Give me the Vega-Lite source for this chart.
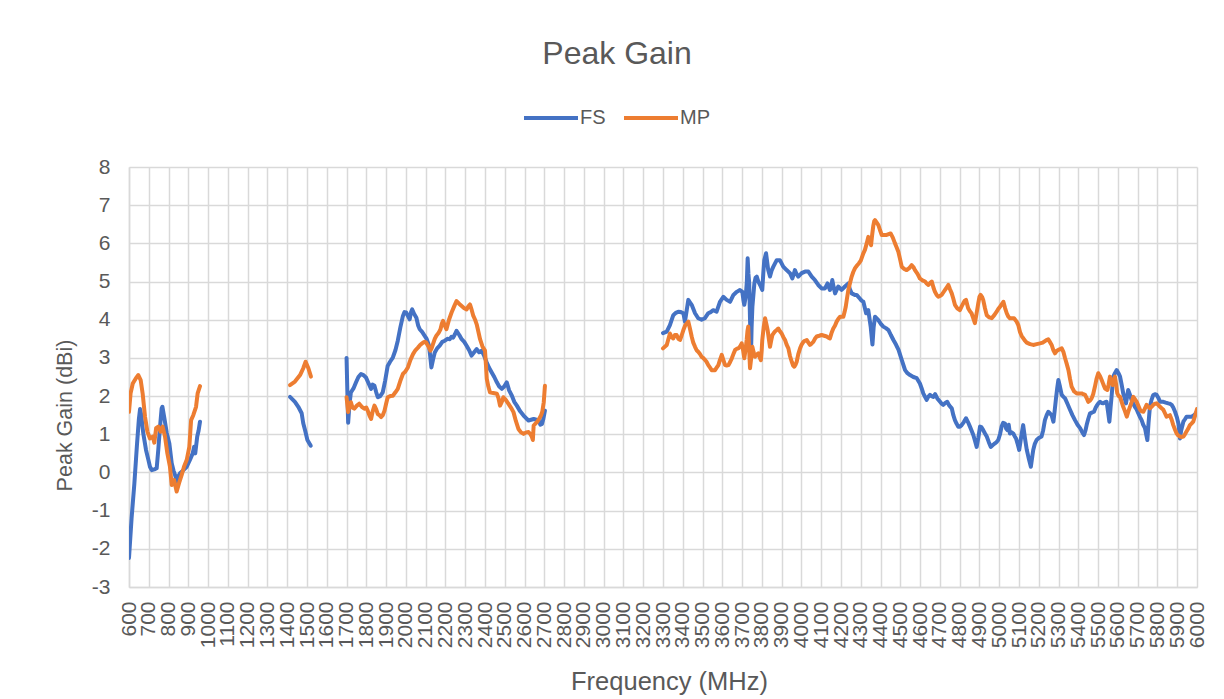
{
"$schema":"https://vega.github.io/schema/vega-lite/v6.json",
"width":1068,"height":420,
"autosize":{"type":"none"},
"padding":{"left":129,"top":167,"right":27,"bottom":112},
"background":"white",
"config":{"font":"Liberation Sans","view":{"stroke":null}},
"title":{"text":"Peak Gain","fontSize":32,"fontWeight":"normal","color":"#595959","anchor":"middle","dx":-46,"offset":18},
"data":{"values":[
{"s":"FS","seg":1,"f":600,"g":-2.24},{"s":"FS","seg":1,"f":613,"g":-1.2},{"s":"FS","seg":1,"f":627,"g":-0.3},{"s":"FS","seg":1,"f":640,"g":0.7},{"s":"FS","seg":1,"f":650,"g":1.4},{"s":"FS","seg":1,"f":656,"g":1.66},{"s":"FS","seg":1,"f":662,"g":1.5},{"s":"FS","seg":1,"f":672,"g":1.03},{"s":"FS","seg":1,"f":686,"g":0.59},{"s":"FS","seg":1,"f":698,"g":0.33},{"s":"FS","seg":1,"f":706,"g":0.15},{"s":"FS","seg":1,"f":715,"g":0.06},{"s":"FS","seg":1,"f":728,"g":0.08},{"s":"FS","seg":1,"f":740,"g":0.11},{"s":"FS","seg":1,"f":748,"g":0.59},{"s":"FS","seg":1,"f":757,"g":1.2},{"s":"FS","seg":1,"f":765,"g":1.68},{"s":"FS","seg":1,"f":769,"g":1.72},{"s":"FS","seg":1,"f":779,"g":1.42},{"s":"FS","seg":1,"f":791,"g":1.03},{"s":"FS","seg":1,"f":804,"g":0.76},{"s":"FS","seg":1,"f":816,"g":0.24},{"s":"FS","seg":1,"f":825,"g":0.05},{"s":"FS","seg":1,"f":833,"g":-0.07},{"s":"FS","seg":1,"f":841,"g":-0.24},{"s":"FS","seg":1,"f":850,"g":-0.1},{"s":"FS","seg":1,"f":858,"g":-0.02},{"s":"FS","seg":1,"f":875,"g":0.06},{"s":"FS","seg":1,"f":892,"g":0.15},{"s":"FS","seg":1,"f":908,"g":0.33},{"s":"FS","seg":1,"f":922,"g":0.5},{"s":"FS","seg":1,"f":929,"g":0.67},{"s":"FS","seg":1,"f":935,"g":0.5},{"s":"FS","seg":1,"f":945,"g":0.94},{"s":"FS","seg":1,"f":952,"g":1.1},{"s":"FS","seg":1,"f":959,"g":1.33},
{"s":"MP","seg":1,"f":600,"g":1.59},{"s":"MP","seg":1,"f":608,"g":2.07},{"s":"MP","seg":1,"f":619,"g":2.33},{"s":"MP","seg":1,"f":635,"g":2.47},{"s":"MP","seg":1,"f":647,"g":2.55},{"s":"MP","seg":1,"f":659,"g":2.42},{"s":"MP","seg":1,"f":669,"g":2.07},{"s":"MP","seg":1,"f":681,"g":1.46},{"s":"MP","seg":1,"f":693,"g":1.07},{"s":"MP","seg":1,"f":706,"g":0.89},{"s":"MP","seg":1,"f":720,"g":0.94},{"s":"MP","seg":1,"f":728,"g":0.78},{"s":"MP","seg":1,"f":737,"g":1.16},{"s":"MP","seg":1,"f":748,"g":1.2},{"s":"MP","seg":1,"f":760,"g":1.07},{"s":"MP","seg":1,"f":770,"g":1.2},{"s":"MP","seg":1,"f":782,"g":0.94},{"s":"MP","seg":1,"f":794,"g":0.5},{"s":"MP","seg":1,"f":807,"g":0.15},{"s":"MP","seg":1,"f":816,"g":-0.33},{"s":"MP","seg":1,"f":828,"g":-0.2},{"s":"MP","seg":1,"f":841,"g":-0.5},{"s":"MP","seg":1,"f":853,"g":-0.28},{"s":"MP","seg":1,"f":866,"g":-0.07},{"s":"MP","seg":1,"f":878,"g":0.15},{"s":"MP","seg":1,"f":892,"g":0.33},{"s":"MP","seg":1,"f":905,"g":0.67},{"s":"MP","seg":1,"f":914,"g":1.37},{"s":"MP","seg":1,"f":925,"g":1.5},{"s":"MP","seg":1,"f":939,"g":1.72},{"s":"MP","seg":1,"f":947,"g":2.07},{"s":"MP","seg":1,"f":959,"g":2.26},
{"s":"FS","seg":2,"f":1414,"g":1.98},{"s":"FS","seg":2,"f":1439,"g":1.85},{"s":"FS","seg":2,"f":1456,"g":1.72},{"s":"FS","seg":2,"f":1473,"g":1.55},{"s":"FS","seg":2,"f":1481,"g":1.29},{"s":"FS","seg":2,"f":1490,"g":1.11},{"s":"FS","seg":2,"f":1502,"g":0.85},{"s":"FS","seg":2,"f":1519,"g":0.7},
{"s":"MP","seg":2,"f":1414,"g":2.29},{"s":"MP","seg":2,"f":1439,"g":2.38},{"s":"MP","seg":2,"f":1465,"g":2.55},{"s":"MP","seg":2,"f":1481,"g":2.73},{"s":"MP","seg":2,"f":1493,"g":2.9},{"s":"MP","seg":2,"f":1507,"g":2.73},{"s":"MP","seg":2,"f":1520,"g":2.51},
{"s":"FS","seg":3,"f":1700,"g":3.0},{"s":"FS","seg":3,"f":1705,"g":1.9},{"s":"FS","seg":3,"f":1708,"g":1.3},{"s":"FS","seg":3,"f":1715,"g":1.8},{"s":"FS","seg":3,"f":1722,"g":2.1},{"s":"FS","seg":3,"f":1735,"g":2.2},{"s":"FS","seg":3,"f":1748,"g":2.36},{"s":"FS","seg":3,"f":1760,"g":2.5},{"s":"FS","seg":3,"f":1773,"g":2.58},{"s":"FS","seg":3,"f":1785,"g":2.55},{"s":"FS","seg":3,"f":1798,"g":2.49},{"s":"FS","seg":3,"f":1810,"g":2.35},{"s":"FS","seg":3,"f":1824,"g":2.19},{"s":"FS","seg":3,"f":1832,"g":2.3},{"s":"FS","seg":3,"f":1841,"g":2.27},{"s":"FS","seg":3,"f":1850,"g":2.1},{"s":"FS","seg":3,"f":1858,"g":1.97},{"s":"FS","seg":3,"f":1870,"g":2.0},{"s":"FS","seg":3,"f":1883,"g":2.1},{"s":"FS","seg":3,"f":1895,"g":2.4},{"s":"FS","seg":3,"f":1908,"g":2.79},{"s":"FS","seg":3,"f":1920,"g":2.9},{"s":"FS","seg":3,"f":1934,"g":3.01},{"s":"FS","seg":3,"f":1947,"g":3.2},{"s":"FS","seg":3,"f":1959,"g":3.45},{"s":"FS","seg":3,"f":1972,"g":3.8},{"s":"FS","seg":3,"f":1985,"g":4.1},{"s":"FS","seg":3,"f":1993,"g":4.2},{"s":"FS","seg":3,"f":2002,"g":4.19},{"s":"FS","seg":3,"f":2010,"g":4.1},{"s":"FS","seg":3,"f":2019,"g":4.01},{"s":"FS","seg":3,"f":2026,"g":4.2},{"s":"FS","seg":3,"f":2032,"g":4.27},{"s":"FS","seg":3,"f":2042,"g":4.15},{"s":"FS","seg":3,"f":2053,"g":4.05},{"s":"FS","seg":3,"f":2062,"g":3.85},{"s":"FS","seg":3,"f":2070,"g":3.75},{"s":"FS","seg":3,"f":2082,"g":3.68},{"s":"FS","seg":3,"f":2095,"g":3.58},{"s":"FS","seg":3,"f":2105,"g":3.5},{"s":"FS","seg":3,"f":2117,"g":3.32},{"s":"FS","seg":3,"f":2124,"g":3.0},{"s":"FS","seg":3,"f":2129,"g":2.75},{"s":"FS","seg":3,"f":2137,"g":2.95},{"s":"FS","seg":3,"f":2146,"g":3.14},{"s":"FS","seg":3,"f":2158,"g":3.25},{"s":"FS","seg":3,"f":2171,"g":3.32},{"s":"FS","seg":3,"f":2184,"g":3.42},{"s":"FS","seg":3,"f":2197,"g":3.45},{"s":"FS","seg":3,"f":2210,"g":3.5},{"s":"FS","seg":3,"f":2222,"g":3.49},{"s":"FS","seg":3,"f":2230,"g":3.55},{"s":"FS","seg":3,"f":2239,"g":3.53},{"s":"FS","seg":3,"f":2248,"g":3.62},{"s":"FS","seg":3,"f":2256,"g":3.71},{"s":"FS","seg":3,"f":2270,"g":3.6},{"s":"FS","seg":3,"f":2282,"g":3.49},{"s":"FS","seg":3,"f":2295,"g":3.42},{"s":"FS","seg":3,"f":2307,"g":3.32},{"s":"FS","seg":3,"f":2320,"g":3.2},{"s":"FS","seg":3,"f":2332,"g":3.06},{"s":"FS","seg":3,"f":2345,"g":3.15},{"s":"FS","seg":3,"f":2358,"g":3.23},{"s":"FS","seg":3,"f":2370,"g":3.15},{"s":"FS","seg":3,"f":2383,"g":3.19},{"s":"FS","seg":3,"f":2396,"g":3.05},{"s":"FS","seg":3,"f":2409,"g":2.88},{"s":"FS","seg":3,"f":2420,"g":2.75},{"s":"FS","seg":3,"f":2434,"g":2.62},{"s":"FS","seg":3,"f":2447,"g":2.5},{"s":"FS","seg":3,"f":2460,"g":2.36},{"s":"FS","seg":3,"f":2472,"g":2.25},{"s":"FS","seg":3,"f":2485,"g":2.19},{"s":"FS","seg":3,"f":2497,"g":2.25},{"s":"FS","seg":3,"f":2510,"g":2.36},{"s":"FS","seg":3,"f":2522,"g":2.15},{"s":"FS","seg":3,"f":2536,"g":2.01},{"s":"FS","seg":3,"f":2548,"g":1.85},{"s":"FS","seg":3,"f":2561,"g":1.75},{"s":"FS","seg":3,"f":2578,"g":1.6},{"s":"FS","seg":3,"f":2595,"g":1.49},{"s":"FS","seg":3,"f":2608,"g":1.42},{"s":"FS","seg":3,"f":2620,"g":1.36},{"s":"FS","seg":3,"f":2633,"g":1.38},{"s":"FS","seg":3,"f":2646,"g":1.4},{"s":"FS","seg":3,"f":2660,"g":1.38},{"s":"FS","seg":3,"f":2671,"g":1.36},{"s":"FS","seg":3,"f":2680,"g":1.25},{"s":"FS","seg":3,"f":2688,"g":1.27},{"s":"FS","seg":3,"f":2695,"g":1.4},{"s":"FS","seg":3,"f":2703,"g":1.62},
{"s":"MP","seg":3,"f":1700,"g":1.97},{"s":"MP","seg":3,"f":1708,"g":1.58},{"s":"MP","seg":3,"f":1715,"g":1.75},{"s":"MP","seg":3,"f":1722,"g":1.84},{"s":"MP","seg":3,"f":1730,"g":1.7},{"s":"MP","seg":3,"f":1739,"g":1.67},{"s":"MP","seg":3,"f":1752,"g":1.75},{"s":"MP","seg":3,"f":1764,"g":1.8},{"s":"MP","seg":3,"f":1777,"g":1.72},{"s":"MP","seg":3,"f":1790,"g":1.67},{"s":"MP","seg":3,"f":1800,"g":1.7},{"s":"MP","seg":3,"f":1807,"g":1.62},{"s":"MP","seg":3,"f":1815,"g":1.5},{"s":"MP","seg":3,"f":1824,"g":1.4},{"s":"MP","seg":3,"f":1832,"g":1.6},{"s":"MP","seg":3,"f":1841,"g":1.75},{"s":"MP","seg":3,"f":1850,"g":1.65},{"s":"MP","seg":3,"f":1858,"g":1.53},{"s":"MP","seg":3,"f":1866,"g":1.5},{"s":"MP","seg":3,"f":1875,"g":1.45},{"s":"MP","seg":3,"f":1883,"g":1.5},{"s":"MP","seg":3,"f":1892,"g":1.62},{"s":"MP","seg":3,"f":1900,"g":1.8},{"s":"MP","seg":3,"f":1908,"g":1.97},{"s":"MP","seg":3,"f":1921,"g":2.0},{"s":"MP","seg":3,"f":1934,"g":2.01},{"s":"MP","seg":3,"f":1947,"g":2.1},{"s":"MP","seg":3,"f":1959,"g":2.19},{"s":"MP","seg":3,"f":1972,"g":2.4},{"s":"MP","seg":3,"f":1985,"g":2.58},{"s":"MP","seg":3,"f":1998,"g":2.65},{"s":"MP","seg":3,"f":2010,"g":2.75},{"s":"MP","seg":3,"f":2023,"g":2.95},{"s":"MP","seg":3,"f":2036,"g":3.1},{"s":"MP","seg":3,"f":2048,"g":3.2},{"s":"MP","seg":3,"f":2061,"g":3.27},{"s":"MP","seg":3,"f":2074,"g":3.35},{"s":"MP","seg":3,"f":2087,"g":3.4},{"s":"MP","seg":3,"f":2095,"g":3.42},{"s":"MP","seg":3,"f":2103,"g":3.4},{"s":"MP","seg":3,"f":2114,"g":3.3},{"s":"MP","seg":3,"f":2124,"g":3.19},{"s":"MP","seg":3,"f":2130,"g":3.25},{"s":"MP","seg":3,"f":2137,"g":3.36},{"s":"MP","seg":3,"f":2146,"g":3.5},{"s":"MP","seg":3,"f":2154,"g":3.58},{"s":"MP","seg":3,"f":2165,"g":3.65},{"s":"MP","seg":3,"f":2175,"g":3.75},{"s":"MP","seg":3,"f":2182,"g":3.9},{"s":"MP","seg":3,"f":2188,"g":3.97},{"s":"MP","seg":3,"f":2196,"g":3.85},{"s":"MP","seg":3,"f":2205,"g":3.75},{"s":"MP","seg":3,"f":2218,"g":4.0},{"s":"MP","seg":3,"f":2231,"g":4.19},{"s":"MP","seg":3,"f":2244,"g":4.35},{"s":"MP","seg":3,"f":2256,"g":4.49},{"s":"MP","seg":3,"f":2269,"g":4.42},{"s":"MP","seg":3,"f":2282,"g":4.36},{"s":"MP","seg":3,"f":2295,"g":4.3},{"s":"MP","seg":3,"f":2307,"g":4.27},{"s":"MP","seg":3,"f":2316,"g":4.35},{"s":"MP","seg":3,"f":2324,"g":4.4},{"s":"MP","seg":3,"f":2333,"g":4.25},{"s":"MP","seg":3,"f":2341,"g":4.1},{"s":"MP","seg":3,"f":2350,"g":4.0},{"s":"MP","seg":3,"f":2358,"g":3.88},{"s":"MP","seg":3,"f":2366,"g":3.7},{"s":"MP","seg":3,"f":2375,"g":3.49},{"s":"MP","seg":3,"f":2387,"g":3.3},{"s":"MP","seg":3,"f":2400,"g":3.19},{"s":"MP","seg":3,"f":2405,"g":2.8},{"s":"MP","seg":3,"f":2409,"g":2.45},{"s":"MP","seg":3,"f":2417,"g":2.25},{"s":"MP","seg":3,"f":2425,"g":2.1},{"s":"MP","seg":3,"f":2442,"g":2.08},{"s":"MP","seg":3,"f":2460,"g":2.06},{"s":"MP","seg":3,"f":2468,"g":1.95},{"s":"MP","seg":3,"f":2476,"g":1.75},{"s":"MP","seg":3,"f":2485,"g":1.85},{"s":"MP","seg":3,"f":2493,"g":1.97},{"s":"MP","seg":3,"f":2505,"g":1.9},{"s":"MP","seg":3,"f":2518,"g":1.8},{"s":"MP","seg":3,"f":2531,"g":1.7},{"s":"MP","seg":3,"f":2544,"g":1.58},{"s":"MP","seg":3,"f":2556,"g":1.35},{"s":"MP","seg":3,"f":2569,"g":1.14},{"s":"MP","seg":3,"f":2582,"g":1.05},{"s":"MP","seg":3,"f":2595,"g":1.01},{"s":"MP","seg":3,"f":2608,"g":1.05},{"s":"MP","seg":3,"f":2620,"g":1.06},{"s":"MP","seg":3,"f":2630,"g":1.0},{"s":"MP","seg":3,"f":2637,"g":0.93},{"s":"MP","seg":3,"f":2642,"g":0.85},{"s":"MP","seg":3,"f":2646,"g":1.23},{"s":"MP","seg":3,"f":2655,"g":1.28},{"s":"MP","seg":3,"f":2663,"g":1.32},{"s":"MP","seg":3,"f":2673,"g":1.4},{"s":"MP","seg":3,"f":2683,"g":1.49},{"s":"MP","seg":3,"f":2690,"g":1.6},{"s":"MP","seg":3,"f":2697,"g":1.84},{"s":"MP","seg":3,"f":2700,"g":2.05},{"s":"MP","seg":3,"f":2703,"g":2.27},
{"s":"FS","seg":4,"f":3300,"g":3.65},{"s":"FS","seg":4,"f":3319,"g":3.69},{"s":"FS","seg":4,"f":3335,"g":3.86},{"s":"FS","seg":4,"f":3352,"g":4.12},{"s":"FS","seg":4,"f":3365,"g":4.18},{"s":"FS","seg":4,"f":3377,"g":4.21},{"s":"FS","seg":4,"f":3390,"g":4.2},{"s":"FS","seg":4,"f":3403,"g":4.17},{"s":"FS","seg":4,"f":3411,"g":3.95},{"s":"FS","seg":4,"f":3420,"g":4.25},{"s":"FS","seg":4,"f":3428,"g":4.52},{"s":"FS","seg":4,"f":3437,"g":4.45},{"s":"FS","seg":4,"f":3445,"g":4.39},{"s":"FS","seg":4,"f":3462,"g":4.17},{"s":"FS","seg":4,"f":3478,"g":4.04},{"s":"FS","seg":4,"f":3495,"g":4.0},{"s":"FS","seg":4,"f":3512,"g":4.04},{"s":"FS","seg":4,"f":3529,"g":4.17},{"s":"FS","seg":4,"f":3541,"g":4.2},{"s":"FS","seg":4,"f":3554,"g":4.25},{"s":"FS","seg":4,"f":3571,"g":4.21},{"s":"FS","seg":4,"f":3588,"g":4.47},{"s":"FS","seg":4,"f":3605,"g":4.6},{"s":"FS","seg":4,"f":3622,"g":4.52},{"s":"FS","seg":4,"f":3639,"g":4.47},{"s":"FS","seg":4,"f":3656,"g":4.65},{"s":"FS","seg":4,"f":3673,"g":4.73},{"s":"FS","seg":4,"f":3689,"g":4.78},{"s":"FS","seg":4,"f":3701,"g":4.73},{"s":"FS","seg":4,"f":3707,"g":4.5},{"s":"FS","seg":4,"f":3711,"g":4.39},{"s":"FS","seg":4,"f":3718,"g":4.6},{"s":"FS","seg":4,"f":3724,"g":5.0},{"s":"FS","seg":4,"f":3728,"g":5.61},{"s":"FS","seg":4,"f":3732,"g":5.2},{"s":"FS","seg":4,"f":3736,"g":4.95},{"s":"FS","seg":4,"f":3740,"g":4.0},{"s":"FS","seg":4,"f":3745,"g":3.12},{"s":"FS","seg":4,"f":3748,"g":3.8},{"s":"FS","seg":4,"f":3752,"g":4.34},{"s":"FS","seg":4,"f":3762,"g":4.95},{"s":"FS","seg":4,"f":3768,"g":5.1},{"s":"FS","seg":4,"f":3774,"g":5.13},{"s":"FS","seg":4,"f":3782,"g":5.0},{"s":"FS","seg":4,"f":3791,"g":4.91},{"s":"FS","seg":4,"f":3802,"g":4.78},{"s":"FS","seg":4,"f":3807,"g":5.2},{"s":"FS","seg":4,"f":3812,"g":5.56},{"s":"FS","seg":4,"f":3821,"g":5.74},{"s":"FS","seg":4,"f":3832,"g":5.3},{"s":"FS","seg":4,"f":3841,"g":5.13},{"s":"FS","seg":4,"f":3850,"g":5.3},{"s":"FS","seg":4,"f":3858,"g":5.39},{"s":"FS","seg":4,"f":3875,"g":5.56},{"s":"FS","seg":4,"f":3891,"g":5.56},{"s":"FS","seg":4,"f":3908,"g":5.39},{"s":"FS","seg":4,"f":3925,"g":5.3},{"s":"FS","seg":4,"f":3942,"g":5.22},{"s":"FS","seg":4,"f":3954,"g":5.08},{"s":"FS","seg":4,"f":3967,"g":5.3},{"s":"FS","seg":4,"f":3975,"g":5.2},{"s":"FS","seg":4,"f":3984,"g":5.13},{"s":"FS","seg":4,"f":4001,"g":5.22},{"s":"FS","seg":4,"f":4018,"g":5.26},{"s":"FS","seg":4,"f":4035,"g":5.26},{"s":"FS","seg":4,"f":4052,"g":5.13},{"s":"FS","seg":4,"f":4068,"g":5.04},{"s":"FS","seg":4,"f":4085,"g":4.91},{"s":"FS","seg":4,"f":4102,"g":4.82},{"s":"FS","seg":4,"f":4119,"g":4.82},{"s":"FS","seg":4,"f":4132,"g":4.95},{"s":"FS","seg":4,"f":4144,"g":4.78},{"s":"FS","seg":4,"f":4150,"g":4.85},{"s":"FS","seg":4,"f":4156,"g":5.04},{"s":"FS","seg":4,"f":4163,"g":4.85},{"s":"FS","seg":4,"f":4170,"g":4.69},{"s":"FS","seg":4,"f":4186,"g":4.87},{"s":"FS","seg":4,"f":4203,"g":4.78},{"s":"FS","seg":4,"f":4220,"g":4.87},{"s":"FS","seg":4,"f":4237,"g":4.95},{"s":"FS","seg":4,"f":4245,"g":4.8},{"s":"FS","seg":4,"f":4254,"g":4.69},{"s":"FS","seg":4,"f":4270,"g":4.65},{"s":"FS","seg":4,"f":4279,"g":4.65},{"s":"FS","seg":4,"f":4296,"g":4.55},{"s":"FS","seg":4,"f":4304,"g":4.5},{"s":"FS","seg":4,"f":4313,"g":4.47},{"s":"FS","seg":4,"f":4327,"g":4.17},{"s":"FS","seg":4,"f":4338,"g":4.25},{"s":"FS","seg":4,"f":4350,"g":3.82},{"s":"FS","seg":4,"f":4359,"g":3.35},{"s":"FS","seg":4,"f":4365,"g":3.8},{"s":"FS","seg":4,"f":4372,"g":4.08},{"s":"FS","seg":4,"f":4389,"g":3.99},{"s":"FS","seg":4,"f":4400,"g":3.9},{"s":"FS","seg":4,"f":4414,"g":3.82},{"s":"FS","seg":4,"f":4427,"g":3.78},{"s":"FS","seg":4,"f":4440,"g":3.73},{"s":"FS","seg":4,"f":4452,"g":3.6},{"s":"FS","seg":4,"f":4465,"g":3.47},{"s":"FS","seg":4,"f":4478,"g":3.35},{"s":"FS","seg":4,"f":4491,"g":3.21},{"s":"FS","seg":4,"f":4507,"g":2.95},{"s":"FS","seg":4,"f":4524,"g":2.68},{"s":"FS","seg":4,"f":4536,"g":2.6},{"s":"FS","seg":4,"f":4549,"g":2.55},{"s":"FS","seg":4,"f":4566,"g":2.5},{"s":"FS","seg":4,"f":4583,"g":2.47},{"s":"FS","seg":4,"f":4599,"g":2.33},{"s":"FS","seg":4,"f":4608,"g":2.2},{"s":"FS","seg":4,"f":4616,"g":2.07},{"s":"FS","seg":4,"f":4625,"g":1.98},{"s":"FS","seg":4,"f":4633,"g":1.9},{"s":"FS","seg":4,"f":4641,"g":1.98},{"s":"FS","seg":4,"f":4650,"g":2.03},{"s":"FS","seg":4,"f":4658,"g":2.0},{"s":"FS","seg":4,"f":4667,"g":1.98},{"s":"FS","seg":4,"f":4676,"g":2.05},{"s":"FS","seg":4,"f":4687,"g":1.94},{"s":"FS","seg":4,"f":4701,"g":1.85},{"s":"FS","seg":4,"f":4709,"g":1.8},{"s":"FS","seg":4,"f":4717,"g":1.77},{"s":"FS","seg":4,"f":4727,"g":1.82},{"s":"FS","seg":4,"f":4737,"g":1.85},{"s":"FS","seg":4,"f":4748,"g":1.75},{"s":"FS","seg":4,"f":4760,"g":1.68},{"s":"FS","seg":4,"f":4768,"g":1.5},{"s":"FS","seg":4,"f":4776,"g":1.37},{"s":"FS","seg":4,"f":4784,"g":1.28},{"s":"FS","seg":4,"f":4793,"g":1.2},{"s":"FS","seg":4,"f":4801,"g":1.2},{"s":"FS","seg":4,"f":4810,"g":1.24},{"s":"FS","seg":4,"f":4821,"g":1.32},{"s":"FS","seg":4,"f":4832,"g":1.42},{"s":"FS","seg":4,"f":4842,"g":1.32},{"s":"FS","seg":4,"f":4852,"g":1.2},{"s":"FS","seg":4,"f":4860,"g":1.1},{"s":"FS","seg":4,"f":4869,"g":0.98},{"s":"FS","seg":4,"f":4878,"g":0.82},{"s":"FS","seg":4,"f":4886,"g":0.67},{"s":"FS","seg":4,"f":4894,"g":0.9},{"s":"FS","seg":4,"f":4903,"g":1.2},{"s":"FS","seg":4,"f":4911,"g":1.18},{"s":"FS","seg":4,"f":4919,"g":1.11},{"s":"FS","seg":4,"f":4928,"g":1.02},{"s":"FS","seg":4,"f":4937,"g":0.94},{"s":"FS","seg":4,"f":4947,"g":0.8},{"s":"FS","seg":4,"f":4957,"g":0.67},{"s":"FS","seg":4,"f":4968,"g":0.72},{"s":"FS","seg":4,"f":4978,"g":0.76},{"s":"FS","seg":4,"f":4987,"g":0.8},{"s":"FS","seg":4,"f":4995,"g":0.85},{"s":"FS","seg":4,"f":5004,"g":1.0},{"s":"FS","seg":4,"f":5012,"g":1.2},{"s":"FS","seg":4,"f":5020,"g":1.3},{"s":"FS","seg":4,"f":5029,"g":1.28},{"s":"FS","seg":4,"f":5035,"g":1.15},{"s":"FS","seg":4,"f":5041,"g":1.11},{"s":"FS","seg":4,"f":5048,"g":1.25},{"s":"FS","seg":4,"f":5054,"g":1.02},{"s":"FS","seg":4,"f":5063,"g":1.05},{"s":"FS","seg":4,"f":5071,"g":1.02},{"s":"FS","seg":4,"f":5078,"g":0.95},{"s":"FS","seg":4,"f":5085,"g":0.89},{"s":"FS","seg":4,"f":5093,"g":0.75},{"s":"FS","seg":4,"f":5101,"g":0.59},{"s":"FS","seg":4,"f":5110,"g":0.9},{"s":"FS","seg":4,"f":5121,"g":1.24},{"s":"FS","seg":4,"f":5130,"g":0.9},{"s":"FS","seg":4,"f":5139,"g":0.6},{"s":"FS","seg":4,"f":5150,"g":0.35},{"s":"FS","seg":4,"f":5160,"g":0.15},{"s":"FS","seg":4,"f":5168,"g":0.45},{"s":"FS","seg":4,"f":5172,"g":0.59},{"s":"FS","seg":4,"f":5180,"g":0.75},{"s":"FS","seg":4,"f":5189,"g":0.85},{"s":"FS","seg":4,"f":5200,"g":0.9},{"s":"FS","seg":4,"f":5214,"g":0.94},{"s":"FS","seg":4,"f":5222,"g":1.1},{"s":"FS","seg":4,"f":5231,"g":1.37},{"s":"FS","seg":4,"f":5240,"g":1.5},{"s":"FS","seg":4,"f":5248,"g":1.59},{"s":"FS","seg":4,"f":5256,"g":1.55},{"s":"FS","seg":4,"f":5265,"g":1.5},{"s":"FS","seg":4,"f":5274,"g":1.33},{"s":"FS","seg":4,"f":5280,"g":1.6},{"s":"FS","seg":4,"f":5287,"g":1.94},{"s":"FS","seg":4,"f":5293,"g":2.2},{"s":"FS","seg":4,"f":5299,"g":2.42},{"s":"FS","seg":4,"f":5307,"g":2.25},{"s":"FS","seg":4,"f":5316,"g":2.03},{"s":"FS","seg":4,"f":5325,"g":1.98},{"s":"FS","seg":4,"f":5333,"g":1.94},{"s":"FS","seg":4,"f":5345,"g":1.8},{"s":"FS","seg":4,"f":5358,"g":1.64},{"s":"FS","seg":4,"f":5370,"g":1.5},{"s":"FS","seg":4,"f":5383,"g":1.37},{"s":"FS","seg":4,"f":5396,"g":1.25},{"s":"FS","seg":4,"f":5409,"g":1.16},{"s":"FS","seg":4,"f":5420,"g":1.05},{"s":"FS","seg":4,"f":5429,"g":0.98},{"s":"FS","seg":4,"f":5436,"g":1.1},{"s":"FS","seg":4,"f":5442,"g":1.24},{"s":"FS","seg":4,"f":5450,"g":1.4},{"s":"FS","seg":4,"f":5459,"g":1.55},{"s":"FS","seg":4,"f":5470,"g":1.57},{"s":"FS","seg":4,"f":5479,"g":1.59},{"s":"FS","seg":4,"f":5488,"g":1.7},{"s":"FS","seg":4,"f":5496,"g":1.77},{"s":"FS","seg":4,"f":5503,"g":1.82},{"s":"FS","seg":4,"f":5510,"g":1.85},{"s":"FS","seg":4,"f":5518,"g":1.82},{"s":"FS","seg":4,"f":5526,"g":1.81},{"s":"FS","seg":4,"f":5535,"g":1.84},{"s":"FS","seg":4,"f":5543,"g":1.85},{"s":"FS","seg":4,"f":5550,"g":1.6},{"s":"FS","seg":4,"f":5557,"g":1.33},{"s":"FS","seg":4,"f":5563,"g":1.7},{"s":"FS","seg":4,"f":5568,"g":1.98},{"s":"FS","seg":4,"f":5573,"g":2.3},{"s":"FS","seg":4,"f":5577,"g":2.51},{"s":"FS","seg":4,"f":5585,"g":2.6},{"s":"FS","seg":4,"f":5594,"g":2.68},{"s":"FS","seg":4,"f":5603,"g":2.6},{"s":"FS","seg":4,"f":5611,"g":2.51},{"s":"FS","seg":4,"f":5619,"g":2.3},{"s":"FS","seg":4,"f":5627,"g":2.07},{"s":"FS","seg":4,"f":5634,"g":1.95},{"s":"FS","seg":4,"f":5641,"g":1.81},{"s":"FS","seg":4,"f":5647,"g":2.0},{"s":"FS","seg":4,"f":5652,"g":2.16},{"s":"FS","seg":4,"f":5660,"g":2.05},{"s":"FS","seg":4,"f":5669,"g":1.9},{"s":"FS","seg":4,"f":5678,"g":1.8},{"s":"FS","seg":4,"f":5686,"g":1.72},{"s":"FS","seg":4,"f":5695,"g":1.65},{"s":"FS","seg":4,"f":5703,"g":1.55},{"s":"FS","seg":4,"f":5712,"g":1.45},{"s":"FS","seg":4,"f":5720,"g":1.37},{"s":"FS","seg":4,"f":5728,"g":1.25},{"s":"FS","seg":4,"f":5737,"g":1.16},{"s":"FS","seg":4,"f":5743,"g":1.0},{"s":"FS","seg":4,"f":5749,"g":0.85},{"s":"FS","seg":4,"f":5755,"g":1.3},{"s":"FS","seg":4,"f":5762,"g":1.72},{"s":"FS","seg":4,"f":5770,"g":1.9},{"s":"FS","seg":4,"f":5779,"g":2.03},{"s":"FS","seg":4,"f":5787,"g":2.05},{"s":"FS","seg":4,"f":5796,"g":2.03},{"s":"FS","seg":4,"f":5805,"g":1.95},{"s":"FS","seg":4,"f":5813,"g":1.85},{"s":"FS","seg":4,"f":5822,"g":1.85},{"s":"FS","seg":4,"f":5830,"g":1.85},{"s":"FS","seg":4,"f":5842,"g":1.83},{"s":"FS","seg":4,"f":5855,"g":1.81},{"s":"FS","seg":4,"f":5863,"g":1.8},{"s":"FS","seg":4,"f":5872,"g":1.77},{"s":"FS","seg":4,"f":5880,"g":1.7},{"s":"FS","seg":4,"f":5889,"g":1.59},{"s":"FS","seg":4,"f":5898,"g":1.45},{"s":"FS","seg":4,"f":5906,"g":1.28},{"s":"FS","seg":4,"f":5910,"g":1.1},{"s":"FS","seg":4,"f":5914,"g":0.89},{"s":"FS","seg":4,"f":5920,"g":1.1},{"s":"FS","seg":4,"f":5931,"g":1.33},{"s":"FS","seg":4,"f":5940,"g":1.4},{"s":"FS","seg":4,"f":5947,"g":1.46},{"s":"FS","seg":4,"f":5960,"g":1.46},{"s":"FS","seg":4,"f":5973,"g":1.46},{"s":"FS","seg":4,"f":5985,"g":1.5},{"s":"FS","seg":4,"f":5995,"g":1.55},{"s":"FS","seg":4,"f":6000,"g":1.6},
{"s":"MP","seg":4,"f":3300,"g":3.25},{"s":"MP","seg":4,"f":3319,"g":3.34},{"s":"MP","seg":4,"f":3335,"g":3.64},{"s":"MP","seg":4,"f":3343,"g":3.55},{"s":"MP","seg":4,"f":3352,"g":3.51},{"s":"MP","seg":4,"f":3360,"g":3.6},{"s":"MP","seg":4,"f":3369,"g":3.6},{"s":"MP","seg":4,"f":3378,"g":3.5},{"s":"MP","seg":4,"f":3386,"g":3.47},{"s":"MP","seg":4,"f":3395,"g":3.6},{"s":"MP","seg":4,"f":3403,"g":3.73},{"s":"MP","seg":4,"f":3412,"g":3.85},{"s":"MP","seg":4,"f":3420,"g":3.9},{"s":"MP","seg":4,"f":3428,"g":3.95},{"s":"MP","seg":4,"f":3437,"g":3.75},{"s":"MP","seg":4,"f":3445,"g":3.56},{"s":"MP","seg":4,"f":3453,"g":3.4},{"s":"MP","seg":4,"f":3462,"g":3.29},{"s":"MP","seg":4,"f":3470,"g":3.2},{"s":"MP","seg":4,"f":3478,"g":3.16},{"s":"MP","seg":4,"f":3487,"g":3.1},{"s":"MP","seg":4,"f":3495,"g":3.03},{"s":"MP","seg":4,"f":3503,"g":3.0},{"s":"MP","seg":4,"f":3512,"g":2.95},{"s":"MP","seg":4,"f":3520,"g":2.9},{"s":"MP","seg":4,"f":3529,"g":2.81},{"s":"MP","seg":4,"f":3537,"g":2.75},{"s":"MP","seg":4,"f":3546,"g":2.68},{"s":"MP","seg":4,"f":3555,"g":2.68},{"s":"MP","seg":4,"f":3563,"g":2.68},{"s":"MP","seg":4,"f":3572,"g":2.75},{"s":"MP","seg":4,"f":3580,"g":2.81},{"s":"MP","seg":4,"f":3588,"g":2.95},{"s":"MP","seg":4,"f":3597,"g":3.08},{"s":"MP","seg":4,"f":3605,"g":2.95},{"s":"MP","seg":4,"f":3614,"g":2.81},{"s":"MP","seg":4,"f":3622,"g":2.8},{"s":"MP","seg":4,"f":3631,"g":2.81},{"s":"MP","seg":4,"f":3640,"g":2.9},{"s":"MP","seg":4,"f":3648,"g":2.99},{"s":"MP","seg":4,"f":3656,"g":3.1},{"s":"MP","seg":4,"f":3665,"g":3.21},{"s":"MP","seg":4,"f":3673,"g":3.24},{"s":"MP","seg":4,"f":3681,"g":3.25},{"s":"MP","seg":4,"f":3690,"g":3.3},{"s":"MP","seg":4,"f":3698,"g":3.38},{"s":"MP","seg":4,"f":3705,"g":3.2},{"s":"MP","seg":4,"f":3711,"g":2.99},{"s":"MP","seg":4,"f":3717,"g":3.2},{"s":"MP","seg":4,"f":3723,"g":3.47},{"s":"MP","seg":4,"f":3727,"g":3.7},{"s":"MP","seg":4,"f":3731,"g":3.82},{"s":"MP","seg":4,"f":3735,"g":3.3},{"s":"MP","seg":4,"f":3740,"g":2.73},{"s":"MP","seg":4,"f":3746,"g":3.0},{"s":"MP","seg":4,"f":3752,"g":3.29},{"s":"MP","seg":4,"f":3758,"g":3.15},{"s":"MP","seg":4,"f":3765,"g":3.03},{"s":"MP","seg":4,"f":3773,"g":3.08},{"s":"MP","seg":4,"f":3782,"g":3.12},{"s":"MP","seg":4,"f":3790,"g":3.0},{"s":"MP","seg":4,"f":3795,"g":2.94},{"s":"MP","seg":4,"f":3799,"g":3.2},{"s":"MP","seg":4,"f":3802,"g":3.47},{"s":"MP","seg":4,"f":3809,"g":3.8},{"s":"MP","seg":4,"f":3816,"g":4.04},{"s":"MP","seg":4,"f":3822,"g":3.9},{"s":"MP","seg":4,"f":3829,"g":3.73},{"s":"MP","seg":4,"f":3835,"g":3.5},{"s":"MP","seg":4,"f":3841,"g":3.29},{"s":"MP","seg":4,"f":3847,"g":3.45},{"s":"MP","seg":4,"f":3853,"g":3.6},{"s":"MP","seg":4,"f":3860,"g":3.65},{"s":"MP","seg":4,"f":3866,"g":3.69},{"s":"MP","seg":4,"f":3875,"g":3.73},{"s":"MP","seg":4,"f":3883,"g":3.77},{"s":"MP","seg":4,"f":3891,"g":3.7},{"s":"MP","seg":4,"f":3900,"g":3.64},{"s":"MP","seg":4,"f":3908,"g":3.55},{"s":"MP","seg":4,"f":3917,"g":3.47},{"s":"MP","seg":4,"f":3925,"g":3.35},{"s":"MP","seg":4,"f":3934,"g":3.25},{"s":"MP","seg":4,"f":3942,"g":3.05},{"s":"MP","seg":4,"f":3951,"g":2.9},{"s":"MP","seg":4,"f":3958,"g":2.8},{"s":"MP","seg":4,"f":3964,"g":2.77},{"s":"MP","seg":4,"f":3970,"g":2.82},{"s":"MP","seg":4,"f":3976,"g":2.9},{"s":"MP","seg":4,"f":3984,"g":3.1},{"s":"MP","seg":4,"f":3993,"g":3.25},{"s":"MP","seg":4,"f":4001,"g":3.35},{"s":"MP","seg":4,"f":4010,"g":3.42},{"s":"MP","seg":4,"f":4018,"g":3.45},{"s":"MP","seg":4,"f":4027,"g":3.47},{"s":"MP","seg":4,"f":4035,"g":3.4},{"s":"MP","seg":4,"f":4043,"g":3.34},{"s":"MP","seg":4,"f":4052,"g":3.38},{"s":"MP","seg":4,"f":4060,"g":3.42},{"s":"MP","seg":4,"f":4068,"g":3.5},{"s":"MP","seg":4,"f":4077,"g":3.56},{"s":"MP","seg":4,"f":4090,"g":3.58},{"s":"MP","seg":4,"f":4102,"g":3.6},{"s":"MP","seg":4,"f":4115,"g":3.58},{"s":"MP","seg":4,"f":4128,"g":3.56},{"s":"MP","seg":4,"f":4136,"g":3.53},{"s":"MP","seg":4,"f":4144,"g":3.51},{"s":"MP","seg":4,"f":4152,"g":3.65},{"s":"MP","seg":4,"f":4161,"g":3.77},{"s":"MP","seg":4,"f":4170,"g":3.85},{"s":"MP","seg":4,"f":4178,"g":3.95},{"s":"MP","seg":4,"f":4186,"g":4.02},{"s":"MP","seg":4,"f":4195,"g":4.08},{"s":"MP","seg":4,"f":4203,"g":4.08},{"s":"MP","seg":4,"f":4212,"g":4.08},{"s":"MP","seg":4,"f":4218,"g":4.2},{"s":"MP","seg":4,"f":4224,"g":4.34},{"s":"MP","seg":4,"f":4230,"g":4.55},{"s":"MP","seg":4,"f":4237,"g":4.78},{"s":"MP","seg":4,"f":4245,"g":4.95},{"s":"MP","seg":4,"f":4254,"g":5.13},{"s":"MP","seg":4,"f":4262,"g":5.25},{"s":"MP","seg":4,"f":4271,"g":5.35},{"s":"MP","seg":4,"f":4281,"g":5.42},{"s":"MP","seg":4,"f":4291,"g":5.48},{"s":"MP","seg":4,"f":4300,"g":5.55},{"s":"MP","seg":4,"f":4313,"g":5.74},{"s":"MP","seg":4,"f":4321,"g":5.83},{"s":"MP","seg":4,"f":4330,"g":6.0},{"s":"MP","seg":4,"f":4338,"g":6.17},{"s":"MP","seg":4,"f":4346,"g":6.05},{"s":"MP","seg":4,"f":4352,"g":5.95},{"s":"MP","seg":4,"f":4357,"g":6.2},{"s":"MP","seg":4,"f":4363,"g":6.45},{"s":"MP","seg":4,"f":4368,"g":6.58},{"s":"MP","seg":4,"f":4372,"g":6.61},{"s":"MP","seg":4,"f":4380,"g":6.55},{"s":"MP","seg":4,"f":4389,"g":6.48},{"s":"MP","seg":4,"f":4397,"g":6.35},{"s":"MP","seg":4,"f":4406,"g":6.22},{"s":"MP","seg":4,"f":4418,"g":6.22},{"s":"MP","seg":4,"f":4431,"g":6.22},{"s":"MP","seg":4,"f":4441,"g":6.24},{"s":"MP","seg":4,"f":4451,"g":6.26},{"s":"MP","seg":4,"f":4462,"g":6.15},{"s":"MP","seg":4,"f":4473,"g":6.0},{"s":"MP","seg":4,"f":4481,"g":5.9},{"s":"MP","seg":4,"f":4490,"g":5.78},{"s":"MP","seg":4,"f":4498,"g":5.6},{"s":"MP","seg":4,"f":4507,"g":5.39},{"s":"MP","seg":4,"f":4520,"g":5.33},{"s":"MP","seg":4,"f":4532,"g":5.3},{"s":"MP","seg":4,"f":4545,"g":5.35},{"s":"MP","seg":4,"f":4557,"g":5.43},{"s":"MP","seg":4,"f":4566,"g":5.38},{"s":"MP","seg":4,"f":4574,"g":5.3},{"s":"MP","seg":4,"f":4587,"g":5.2},{"s":"MP","seg":4,"f":4599,"g":5.08},{"s":"MP","seg":4,"f":4612,"g":5.03},{"s":"MP","seg":4,"f":4625,"g":5.0},{"s":"MP","seg":4,"f":4633,"g":4.95},{"s":"MP","seg":4,"f":4642,"g":4.91},{"s":"MP","seg":4,"f":4650,"g":4.96},{"s":"MP","seg":4,"f":4659,"g":5.0},{"s":"MP","seg":4,"f":4667,"g":4.85},{"s":"MP","seg":4,"f":4675,"g":4.73},{"s":"MP","seg":4,"f":4684,"g":4.65},{"s":"MP","seg":4,"f":4692,"g":4.6},{"s":"MP","seg":4,"f":4700,"g":4.62},{"s":"MP","seg":4,"f":4709,"g":4.65},{"s":"MP","seg":4,"f":4718,"g":4.72},{"s":"MP","seg":4,"f":4726,"g":4.78},{"s":"MP","seg":4,"f":4735,"g":4.85},{"s":"MP","seg":4,"f":4743,"g":4.91},{"s":"MP","seg":4,"f":4751,"g":4.8},{"s":"MP","seg":4,"f":4760,"g":4.69},{"s":"MP","seg":4,"f":4768,"g":4.55},{"s":"MP","seg":4,"f":4776,"g":4.39},{"s":"MP","seg":4,"f":4788,"g":4.3},{"s":"MP","seg":4,"f":4801,"g":4.25},{"s":"MP","seg":4,"f":4810,"g":4.35},{"s":"MP","seg":4,"f":4818,"g":4.43},{"s":"MP","seg":4,"f":4826,"g":4.5},{"s":"MP","seg":4,"f":4832,"g":4.52},{"s":"MP","seg":4,"f":4838,"g":4.4},{"s":"MP","seg":4,"f":4843,"g":4.3},{"s":"MP","seg":4,"f":4852,"g":4.22},{"s":"MP","seg":4,"f":4860,"g":4.17},{"s":"MP","seg":4,"f":4868,"g":4.05},{"s":"MP","seg":4,"f":4877,"g":3.91},{"s":"MP","seg":4,"f":4885,"g":4.15},{"s":"MP","seg":4,"f":4894,"g":4.43},{"s":"MP","seg":4,"f":4900,"g":4.6},{"s":"MP","seg":4,"f":4906,"g":4.65},{"s":"MP","seg":4,"f":4913,"g":4.6},{"s":"MP","seg":4,"f":4919,"g":4.52},{"s":"MP","seg":4,"f":4928,"g":4.3},{"s":"MP","seg":4,"f":4937,"g":4.12},{"s":"MP","seg":4,"f":4950,"g":4.06},{"s":"MP","seg":4,"f":4962,"g":4.04},{"s":"MP","seg":4,"f":4975,"g":4.12},{"s":"MP","seg":4,"f":4987,"g":4.21},{"s":"MP","seg":4,"f":4995,"g":4.28},{"s":"MP","seg":4,"f":5004,"g":4.34},{"s":"MP","seg":4,"f":5012,"g":4.4},{"s":"MP","seg":4,"f":5021,"g":4.47},{"s":"MP","seg":4,"f":5030,"g":4.3},{"s":"MP","seg":4,"f":5038,"g":4.17},{"s":"MP","seg":4,"f":5046,"g":4.08},{"s":"MP","seg":4,"f":5054,"g":4.04},{"s":"MP","seg":4,"f":5065,"g":4.04},{"s":"MP","seg":4,"f":5075,"g":4.04},{"s":"MP","seg":4,"f":5088,"g":3.95},{"s":"MP","seg":4,"f":5097,"g":3.85},{"s":"MP","seg":4,"f":5105,"g":3.68},{"s":"MP","seg":4,"f":5113,"g":3.58},{"s":"MP","seg":4,"f":5121,"g":3.52},{"s":"MP","seg":4,"f":5130,"g":3.45},{"s":"MP","seg":4,"f":5139,"g":3.4},{"s":"MP","seg":4,"f":5156,"g":3.36},{"s":"MP","seg":4,"f":5172,"g":3.34},{"s":"MP","seg":4,"f":5189,"g":3.36},{"s":"MP","seg":4,"f":5206,"g":3.38},{"s":"MP","seg":4,"f":5220,"g":3.4},{"s":"MP","seg":4,"f":5231,"g":3.44},{"s":"MP","seg":4,"f":5240,"g":3.47},{"s":"MP","seg":4,"f":5248,"g":3.49},{"s":"MP","seg":4,"f":5256,"g":3.42},{"s":"MP","seg":4,"f":5265,"g":3.34},{"s":"MP","seg":4,"f":5274,"g":3.2},{"s":"MP","seg":4,"f":5282,"g":3.12},{"s":"MP","seg":4,"f":5290,"g":3.18},{"s":"MP","seg":4,"f":5299,"g":3.21},{"s":"MP","seg":4,"f":5308,"g":3.23},{"s":"MP","seg":4,"f":5316,"g":3.25},{"s":"MP","seg":4,"f":5325,"g":3.15},{"s":"MP","seg":4,"f":5333,"g":2.99},{"s":"MP","seg":4,"f":5341,"g":2.85},{"s":"MP","seg":4,"f":5350,"g":2.68},{"s":"MP","seg":4,"f":5358,"g":2.45},{"s":"MP","seg":4,"f":5366,"g":2.25},{"s":"MP","seg":4,"f":5379,"g":2.12},{"s":"MP","seg":4,"f":5392,"g":2.07},{"s":"MP","seg":4,"f":5405,"g":2.07},{"s":"MP","seg":4,"f":5417,"g":2.07},{"s":"MP","seg":4,"f":5425,"g":2.05},{"s":"MP","seg":4,"f":5434,"g":2.03},{"s":"MP","seg":4,"f":5442,"g":1.95},{"s":"MP","seg":4,"f":5450,"g":1.85},{"s":"MP","seg":4,"f":5459,"g":1.88},{"s":"MP","seg":4,"f":5467,"g":1.94},{"s":"MP","seg":4,"f":5475,"g":2.05},{"s":"MP","seg":4,"f":5484,"g":2.25},{"s":"MP","seg":4,"f":5492,"g":2.45},{"s":"MP","seg":4,"f":5501,"g":2.6},{"s":"MP","seg":4,"f":5510,"g":2.52},{"s":"MP","seg":4,"f":5518,"g":2.42},{"s":"MP","seg":4,"f":5527,"g":2.3},{"s":"MP","seg":4,"f":5535,"g":2.2},{"s":"MP","seg":4,"f":5547,"g":2.16},{"s":"MP","seg":4,"f":5553,"g":2.3},{"s":"MP","seg":4,"f":5560,"g":2.51},{"s":"MP","seg":4,"f":5567,"g":2.4},{"s":"MP","seg":4,"f":5574,"g":2.29},{"s":"MP","seg":4,"f":5580,"g":2.4},{"s":"MP","seg":4,"f":5585,"g":2.51},{"s":"MP","seg":4,"f":5591,"g":2.3},{"s":"MP","seg":4,"f":5597,"g":2.07},{"s":"MP","seg":4,"f":5604,"g":2.0},{"s":"MP","seg":4,"f":5611,"g":1.98},{"s":"MP","seg":4,"f":5619,"g":1.85},{"s":"MP","seg":4,"f":5627,"g":1.72},{"s":"MP","seg":4,"f":5636,"g":1.6},{"s":"MP","seg":4,"f":5645,"g":1.46},{"s":"MP","seg":4,"f":5653,"g":1.6},{"s":"MP","seg":4,"f":5661,"g":1.72},{"s":"MP","seg":4,"f":5670,"g":1.85},{"s":"MP","seg":4,"f":5678,"g":1.98},{"s":"MP","seg":4,"f":5686,"g":1.92},{"s":"MP","seg":4,"f":5695,"g":1.85},{"s":"MP","seg":4,"f":5703,"g":1.75},{"s":"MP","seg":4,"f":5712,"g":1.64},{"s":"MP","seg":4,"f":5720,"g":1.6},{"s":"MP","seg":4,"f":5729,"g":1.59},{"s":"MP","seg":4,"f":5737,"g":1.68},{"s":"MP","seg":4,"f":5745,"g":1.77},{"s":"MP","seg":4,"f":5754,"g":1.72},{"s":"MP","seg":4,"f":5762,"g":1.68},{"s":"MP","seg":4,"f":5770,"g":1.72},{"s":"MP","seg":4,"f":5779,"g":1.77},{"s":"MP","seg":4,"f":5787,"g":1.8},{"s":"MP","seg":4,"f":5796,"g":1.81},{"s":"MP","seg":4,"f":5804,"g":1.77},{"s":"MP","seg":4,"f":5813,"g":1.72},{"s":"MP","seg":4,"f":5821,"g":1.68},{"s":"MP","seg":4,"f":5830,"g":1.64},{"s":"MP","seg":4,"f":5838,"g":1.55},{"s":"MP","seg":4,"f":5846,"g":1.46},{"s":"MP","seg":4,"f":5855,"g":1.48},{"s":"MP","seg":4,"f":5863,"g":1.5},{"s":"MP","seg":4,"f":5872,"g":1.38},{"s":"MP","seg":4,"f":5880,"g":1.24},{"s":"MP","seg":4,"f":5889,"g":1.12},{"s":"MP","seg":4,"f":5897,"g":1.02},{"s":"MP","seg":4,"f":5905,"g":0.97},{"s":"MP","seg":4,"f":5914,"g":0.94},{"s":"MP","seg":4,"f":5922,"g":0.93},{"s":"MP","seg":4,"f":5931,"g":0.94},{"s":"MP","seg":4,"f":5939,"g":1.0},{"s":"MP","seg":4,"f":5947,"g":1.07},{"s":"MP","seg":4,"f":5956,"g":1.15},{"s":"MP","seg":4,"f":5964,"g":1.24},{"s":"MP","seg":4,"f":5972,"g":1.28},{"s":"MP","seg":4,"f":5981,"g":1.33},{"s":"MP","seg":4,"f":5990,"g":1.48},{"s":"MP","seg":4,"f":6000,"g":1.66}
]},
"mark":{"type":"line","strokeWidth":4,"strokeJoin":"round","strokeCap":"round","clip":true},
"encoding":{
"x":{"field":"f","type":"quantitative","scale":{"domain":[600,6000],"nice":false,"zero":false},
"axis":{"values":[600,700,800,900,1000,1100,1200,1300,1400,1500,1600,1700,1800,1900,2000,2100,2200,2300,2400,2500,2600,2700,2800,2900,3000,3100,3200,3300,3400,3500,3600,3700,3800,3900,4000,4100,4200,4300,4400,4500,4600,4700,4800,4900,5000,5100,5200,5300,5400,5500,5600,5700,5800,5900,6000],
"format":"d","labelAngle":-90,"labelFontSize":21,"labelColor":"#595959","labelPadding":14,"labelOverlap":false,"labelFlush":false,"labelBound":false,
"ticks":false,"grid":true,"gridColor":"#D9D9D9","gridWidth":1.5,"domainColor":"#D9D9D9","domainWidth":1.5,
"title":"Frequency (MHz)","titleFontSize":25.5,"titleFontWeight":"normal","titleColor":"#595959","titlePadding":22,"titleX":540}},
"y":{"field":"g","type":"quantitative","scale":{"domain":[-3,8],"nice":false,"zero":false},
"axis":{"values":[-3,-2,-1,0,1,2,3,4,5,6,7,8],"labelExpr":"datum.value < 0 ? '-' + abs(datum.value) : '' + datum.value","labelFontSize":21,"labelColor":"#595959","labelPadding":19,"ticks":false,
"grid":true,"gridColor":"#D9D9D9","gridWidth":1.5,"domainColor":"#D9D9D9","domainWidth":1.5,
"title":"Peak Gain (dBi)","titleFontSize":21.5,"titleFontWeight":"normal","titleColor":"#595959","titlePadding":15,"titleY":248}},
"color":{"field":"s","type":"nominal","scale":{"domain":["FS","MP"],"range":["#4472C4","#ED7D31"]},
"legend":{"title":null,"orient":"none","legendX":393,"legendY":-78,"direction":"horizontal","symbolType":"stroke","symbolSize":2916,"symbolStrokeWidth":4,"labelFontSize":20,"labelColor":"#595959","labelOffset":0,"columnPadding":10}},
"detail":{"field":"seg","type":"nominal"}
}
}
